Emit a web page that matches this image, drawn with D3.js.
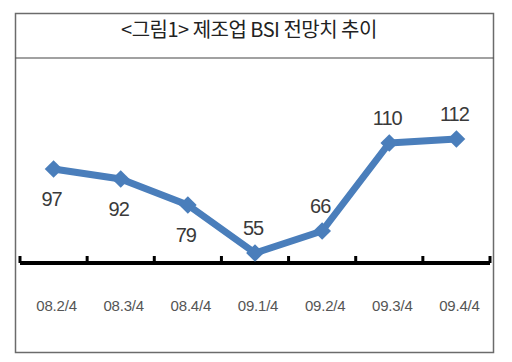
<!DOCTYPE html>
<html>
<head>
<meta charset="utf-8">
<script src="https://cdn.jsdelivr.net/npm/d3@7"></script>
<style>
  body { margin: 0; background: #fff; }
  svg text { font-family: "Liberation Sans", "Noto Sans", sans-serif; }
</style>
</head>
<body>
<script>
(function () {
	//chart data
	var title = "<그림1> 제조업 BSI 전망치 추이";
	var quarters = ["08.2/4", "08.3/4", "08.4/4", "09.1/4", "09.2/4", "09.3/4", "09.4/4"];
	var bsiValues = [97, 92, 79, 55, 66, 110, 112];
	var labelSide = ["below", "below", "below", "above", "above", "above", "above"];

	var width = 512, height = 362;

	var svg = d3.select("body")
		.append("svg")
		.attr("width", width)
		.attr("height", height);

	//outer frame and title box
	svg.append("rect")
		.attr("x", 15.5).attr("y", 13.5)
		.attr("width", 478).attr("height", 339)
		.attr("fill", "none")
		.attr("stroke", "#6b6b6b")
		.attr("stroke-width", 1.5);

	svg.append("line")
		.attr("x1", 15.5).attr("x2", 493.5)
		.attr("y1", 58).attr("y2", 58)
		.attr("stroke", "#444")
		.attr("stroke-width", 1.2);

	svg.append("text")
		.attr("x", 249).attr("y", 37)
		.attr("text-anchor", "middle")
		.style("font-family", "'Noto Sans CJK KR', sans-serif")
		.style("font-size", "20px")
		.style("letter-spacing", "-0.5px")
		.attr("fill", "#222")
		.text(title);

	//scales
	var x = d3.scaleBand()
		.domain(quarters)
		.range([20, 490]);

	var y = d3.scaleLinear()
		.domain([50, 120])
		.range([263, 123]);

	var axisY = 263;

	//axis line with ticks at band boundaries
	svg.append("line")
		.attr("x1", x.range()[0]).attr("x2", x.range()[1])
		.attr("y1", axisY).attr("y2", axisY)
		.attr("stroke", "#000")
		.attr("stroke-width", 4);

	var bounds = quarters.map(function (q) { return x(q); }).concat([x.range()[1]]);
	svg.selectAll(".tick")
		.data(bounds)
		.enter()
		.append("line")
		.attr("class", "tick")
		.attr("x1", function (d) { return d; })
		.attr("x2", function (d) { return d; })
		.attr("y1", axisY)
		.attr("y2", axisY - 7)
		.attr("stroke", "#000")
		.attr("stroke-width", 3);

	//category labels
	svg.selectAll(".xlab")
		.data(quarters)
		.enter()
		.append("text")
		.attr("class", "xlab")
		.attr("x", function (d) { return x(d) + x.bandwidth() / 2 + 3; })
		.attr("y", 311)
		.attr("text-anchor", "middle")
		.style("font-size", "15px")
		.style("letter-spacing", "-0.2px")
		.attr("fill", "#555")
		.text(function (d) { return d; });

	//line
	var line = d3.line()
		.x(function (d, i) { return x(quarters[i]) + x.bandwidth() / 2; })
		.y(function (d) { return y(d); });

	svg.append("path")
		.datum(bsiValues)
		.attr("d", line)
		.attr("fill", "none")
		.attr("stroke", "#4a7ebb")
		.attr("stroke-width", 7)
		.attr("stroke-linejoin", "round");

	//diamond markers
	svg.selectAll(".marker")
		.data(bsiValues)
		.enter()
		.append("path")
		.attr("class", "marker")
		.attr("d", d3.symbol().type(d3.symbolDiamond2).size(200))
		.attr("transform", function (d, i) {
			return "translate(" + (x(quarters[i]) + x.bandwidth() / 2) + "," + y(d) + ")";
		})
		.attr("fill", "#4a7ebb");

	//value labels
	svg.selectAll(".vlab")
		.data(bsiValues)
		.enter()
		.append("text")
		.attr("class", "vlab")
		.attr("x", function (d, i) { return x(quarters[i]) + x.bandwidth() / 2 - 2; })
		.attr("y", function (d, i) {
			return labelSide[i] == "below" ? y(d) + 37 : y(d) - 18;
		})
		.attr("text-anchor", "middle")
		.style("font-size", "20px")
		.style("letter-spacing", "-1px")
		.attr("fill", "#3a3a3a")
		.text(function (d) { return d; });
})();
</script>
</body>
</html>
